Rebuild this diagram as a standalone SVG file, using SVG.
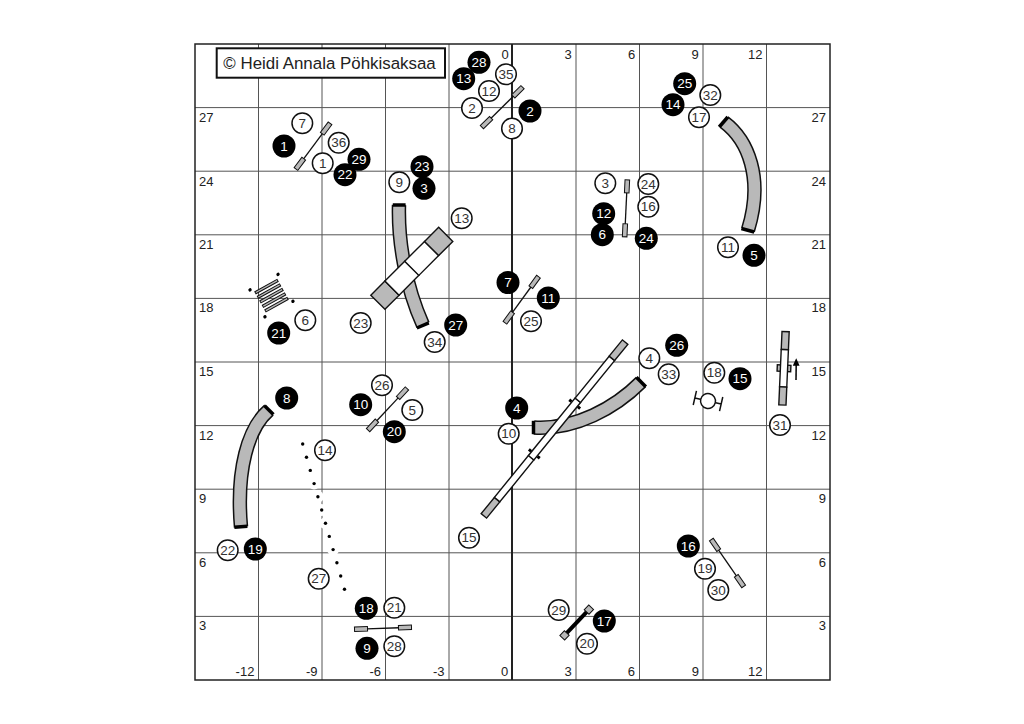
<svg xmlns="http://www.w3.org/2000/svg" width="1024" height="724" viewBox="0 0 1024 724">
<style>
text{font-family:"Liberation Sans",Arial,sans-serif;font-size:13px;fill:#222}
.g{stroke:#555;stroke-width:1;fill:none}
.e{text-anchor:end}.m{text-anchor:middle}
.w{fill:#fff;stroke:#111;stroke-width:1.5}
.b{fill:#000}
.n{text-anchor:middle;font-size:13.5px;fill:#333}
.t{text-anchor:middle;font-size:13.5px;fill:#fff}
.to{fill:none;stroke:#111;stroke-width:14.5}
.ti{fill:none;stroke:#b9b9b9;stroke-width:11.5}
.cap{stroke:#000;stroke-width:3.5;fill:none}
.gr{fill:#b9b9b9;stroke:#111;stroke-width:1.4}
.wh{fill:#fff;stroke:#111;stroke-width:1.4}
.ln{stroke:#111;stroke-width:1.3;fill:none}
.halo{fill:#fff}
.dot{fill:#000}
</style>
<defs>
<g id="jump"><line class="ln" x1="-16" y1="0" x2="16" y2="0"/><rect class="gr" x="-28.5" y="-2.3" width="13" height="4.6" style="stroke-width:1"/><rect class="gr" x="15.5" y="-2.3" width="13" height="4.6" style="stroke-width:1"/></g>
</defs>
<rect width="1024" height="724" fill="#fff"/>
<g id="grid">
<path class="g" d="M258.5 44V680M322 44V680M385.5 44V680M449 44V680M576 44V680M639.5 44V680M703 44V680M766.5 44V680M195 107.6H830M195 171.2H830M195 234.8H830M195 298.4H830M195 362H830M195 425.6H830M195 489.2H830M195 552.8H830M195 616.4H830"/>
<line x1="512" y1="44" x2="512" y2="680" stroke="#222" stroke-width="2"/>
<rect x="195" y="44" width="635" height="636" fill="none" stroke="#222" stroke-width="1.5"/>
</g>
<g id="axis-labels">
<text class="m" x="505" y="58.5">0</text><text class="m" x="568" y="58.5">3</text><text class="m" x="631.7" y="58.5">6</text><text class="m" x="695" y="58.5">9</text><text class="m" x="755.3" y="58.5">12</text>
<text class="m" x="245" y="676">-12</text><text class="m" x="311.7" y="676">-9</text><text class="m" x="375.3" y="676">-6</text><text class="m" x="438.7" y="676">-3</text><text class="m" x="504.7" y="676">0</text><text class="m" x="568" y="676">3</text><text class="m" x="631.3" y="676">6</text><text class="m" x="695.3" y="676">9</text><text class="m" x="755.3" y="676">12</text>
<text x="199" y="122">27</text><text x="199" y="186">24</text><text x="199" y="249">21</text><text x="199" y="312">18</text><text x="199" y="376">15</text><text x="199" y="440">12</text><text x="199" y="503">9</text><text x="199" y="567">6</text><text x="199" y="630">3</text>
<text class="e" x="826" y="122">27</text><text class="e" x="826" y="186">24</text><text class="e" x="826" y="249">21</text><text class="e" x="826" y="312">18</text><text class="e" x="826" y="376">15</text><text class="e" x="826" y="440">12</text><text class="e" x="826" y="503">9</text><text class="e" x="826" y="567">6</text><text class="e" x="826" y="630">3</text>
</g>
<g id="copyright"><rect x="216.7" y="48.3" width="228.3" height="29.4" fill="#fff" stroke="#111" stroke-width="2"/><text x="223.3" y="68.8" style="font-size:16.9px">© Heidi Annala Pöhkisaksaa</text></g>

<g id="tunnel-right"><path class="to" d="M724 122C748 140 764 178 748 230"/><path class="ti" d="M724 122C748 140 764 178 748 230"/><line class="cap" x1="719.2" y1="127" x2="727.8" y2="117"/><line class="cap" x1="741.4" y1="228.5" x2="754.2" y2="232"/></g>
<g id="tunnel-left"><path class="to" d="M269 410C248 428 236 470 241 527"/><path class="ti" d="M269 410C248 428 236 470 241 527"/><line class="cap" x1="264.6" y1="405.8" x2="273.4" y2="414.4"/><line class="cap" x1="234.4" y1="527.2" x2="247.4" y2="526.2"/></g>
<g id="tunnel-centre"><path class="to" d="M399 205C398 240 405 285 423 325"/><path class="ti" d="M399 205C398 240 405 285 423 325"/><line class="cap" x1="392.8" y1="205" x2="405.6" y2="205"/><line class="cap" x1="416.8" y1="328" x2="428.8" y2="322.8"/></g>
<g id="tunnel-lower"><path class="to" d="M534 427.5C575 430 615 408 641 382"/><path class="ti" d="M534 427.5C575 430 615 408 641 382"/><line class="cap" x1="533.5" y1="420.8" x2="533.5" y2="434.2"/><line class="cap" x1="636.4" y1="377.2" x2="645.8" y2="386.8"/></g>

<g id="aframe" transform="translate(411.8 268.3) rotate(-45)"><rect class="gr" x="-48" y="-10" width="20" height="20"/><rect class="wh" x="-28" y="-10" width="28" height="20"/><rect class="wh" x="0" y="-10" width="28" height="20"/><rect class="gr" x="28" y="-10" width="20" height="20"/></g>

<g id="dogwalk" transform="translate(554.5 429) rotate(-50.9)">
<rect class="b" x="-33.5" y="-7" width="3" height="3"/><rect class="b" x="-33.5" y="4" width="3" height="3"/><rect class="b" x="30.5" y="-7" width="3" height="3"/><rect class="b" x="30.5" y="4" width="3" height="3"/>
<rect class="gr" x="-112" y="-3.5" width="21" height="7"/><rect class="wh" x="-91" y="-3.5" width="54" height="7"/><rect class="wh" x="-37" y="-3.5" width="74" height="7"/><rect class="wh" x="37" y="-3.5" width="54" height="7"/><rect class="gr" x="91" y="-3.5" width="21" height="7"/>
</g>

<g id="jump-1"><use href="#jump" transform="translate(313 146.2) rotate(-53.3)"/></g>
<g id="jump-2"><use href="#jump" transform="translate(502.2 107.2) rotate(-44.5)"/></g>
<g id="jump-3"><use href="#jump" transform="translate(626 208.3) rotate(92.7)"/></g>
<g id="jump-7"><use href="#jump" transform="translate(521.7 299.7) rotate(-54)"/></g>
<g id="jump-10"><use href="#jump" transform="translate(387.5 409.3) rotate(-47)"/></g>
<g id="jump-9"><use href="#jump" transform="translate(383 628.3) rotate(-2)"/></g>
<g id="jump-16"><use href="#jump" transform="translate(727.5 563) rotate(55.5)"/></g>
<g id="wall-17" transform="translate(576.7 622.5) rotate(-46.5)"><line x1="-17" y1="0" x2="17" y2="0" stroke="#000" stroke-width="4"/><rect class="gr" x="-21" y="-3.3" width="6.6" height="6.6" style="stroke-width:1"/><rect class="gr" x="14.4" y="-3.3" width="6.6" height="6.6" style="stroke-width:1"/></g>

<g id="broad-jump" transform="translate(271.5 295.6) rotate(-29)">
<rect class="gr" x="-12.7" y="-11.5" width="25.4" height="2.4" style="stroke-width:1"/><rect class="gr" x="-12.7" y="-6.35" width="25.4" height="2.4" style="stroke-width:1"/><rect class="gr" x="-12.7" y="-1.2" width="25.4" height="2.4" style="stroke-width:1"/><rect class="gr" x="-12.7" y="3.95" width="25.4" height="2.4" style="stroke-width:1"/><rect class="gr" x="-12.7" y="9.1" width="25.4" height="2.4" style="stroke-width:1"/>
<circle class="dot" cx="-16" cy="-15.4" r="1.7"/><circle class="dot" cx="16" cy="-15.4" r="1.7"/><circle class="dot" cx="-16" cy="15.4" r="1.7"/><circle class="dot" cx="16" cy="15.4" r="1.7"/>
</g>

<g id="tire" transform="translate(708 401) rotate(13)"><path class="ln" d="M-13.5 0H13.5M-13.5 -7.2V7.2M13.5 -7.2V7.2" style="stroke-width:1.5"/><circle class="w" cx="0" cy="0" r="7.5"/></g>

<g id="seesaw" transform="translate(784 368.3) rotate(2.5)"><rect class="gr" x="-6.8" y="-3.2" width="13.6" height="6.4"/><rect class="gr" x="-3.6" y="-36.7" width="7.2" height="18"/><rect class="wh" x="-3.6" y="-18.7" width="7.2" height="37.4"/><rect class="gr" x="-3.6" y="18.7" width="7.2" height="18"/></g>
<g id="seesaw-arrow"><line class="ln" x1="796" y1="380" x2="796.2" y2="365" style="stroke-width:1.6"/><polygon class="b" points="796.2,358.3 799.6,365.8 792.8,365.8"/></g>

<g id="weave">
<g class="halo"><circle cx="302.7" cy="444" r="6"/><circle cx="306.5" cy="457.2" r="6"/><circle cx="310.3" cy="470.4" r="6"/><circle cx="314.1" cy="483.6" r="6"/><circle cx="317.9" cy="496.8" r="6"/><circle cx="321.7" cy="510" r="6"/><circle cx="325.5" cy="523.2" r="6"/><circle cx="329.3" cy="536.4" r="6"/><circle cx="333.1" cy="549.6" r="6"/><circle cx="336.9" cy="562.8" r="6"/><circle cx="340.7" cy="576" r="6"/><circle cx="344.5" cy="589.2" r="6"/></g>
<g class="dot"><circle cx="302.7" cy="444" r="1.7"/><circle cx="306.5" cy="457.2" r="1.7"/><circle cx="310.3" cy="470.4" r="1.7"/><circle cx="314.1" cy="483.6" r="1.7"/><circle cx="317.9" cy="496.8" r="1.7"/><circle cx="321.7" cy="510" r="1.7"/><circle cx="325.5" cy="523.2" r="1.7"/><circle cx="329.3" cy="536.4" r="1.7"/><circle cx="333.1" cy="549.6" r="1.7"/><circle cx="336.9" cy="562.8" r="1.7"/><circle cx="340.7" cy="576" r="1.7"/><circle cx="344.5" cy="589.2" r="1.7"/></g>
</g>

<g id="handler-numbers">
<g id="w7"><circle class="w" cx="302.3" cy="123.3" r="10.3"/><text class="n" x="302.3" y="128">7</text></g>
<g id="w36"><circle class="w" cx="338.7" cy="142.7" r="10.3"/><text class="n" x="338.7" y="147.4">36</text></g>
<g id="b29"><circle class="b" cx="359" cy="159.3" r="11.5"/><text class="t" x="359" y="164">29</text></g>
<g id="b22"><circle class="b" cx="345" cy="174.7" r="11.5"/><text class="t" x="345" y="179.4">22</text></g>
<g id="w1"><circle class="w" cx="322.7" cy="163.3" r="10.3"/><text class="n" x="322.7" y="168">1</text></g>
<g id="b1"><circle class="b" cx="284" cy="146" r="11.5"/><text class="t" x="284" y="150.7">1</text></g>
<g id="b23"><circle class="b" cx="422" cy="166.7" r="11.5"/><text class="t" x="422" y="171.4">23</text></g>
<g id="b3"><circle class="b" cx="424" cy="188.3" r="11.5"/><text class="t" x="424" y="193">3</text></g>
<g id="w9"><circle class="w" cx="399.3" cy="182.3" r="10.3"/><text class="n" x="399.3" y="187">9</text></g>
<g id="w13"><circle class="w" cx="461.7" cy="218.3" r="10.3"/><text class="n" x="461.7" y="223">13</text></g>
<g id="b28"><circle class="b" cx="479" cy="62.3" r="11.5"/><text class="t" x="479" y="67">28</text></g>
<g id="b13"><circle class="b" cx="463.7" cy="78.7" r="11.5"/><text class="t" x="463.7" y="83.4">13</text></g>
<g id="w35"><circle class="w" cx="506" cy="74.3" r="10.3"/><text class="n" x="506" y="79">35</text></g>
<g id="w12"><circle class="w" cx="489" cy="91" r="10.3"/><text class="n" x="489" y="95.7">12</text></g>
<g id="w2"><circle class="w" cx="472" cy="108" r="10.3"/><text class="n" x="472" y="112.7">2</text></g>
<g id="w8"><circle class="w" cx="512" cy="128.5" r="10.3"/><text class="n" x="512" y="133.2">8</text></g>
<g id="b2"><circle class="b" cx="530" cy="111" r="11.5"/><text class="t" x="530" y="115.7">2</text></g>
<g id="b7"><circle class="b" cx="508" cy="282.5" r="11.5"/><text class="t" x="508" y="287.2">7</text></g>
<g id="b21"><circle class="b" cx="278.7" cy="333" r="11.5"/><text class="t" x="278.7" y="337.7">21</text></g>
<g id="w6"><circle class="w" cx="305.3" cy="320.3" r="10.3"/><text class="n" x="305.3" y="325">6</text></g>
<g id="w23"><circle class="w" cx="360.7" cy="323" r="10.3"/><text class="n" x="360.7" y="327.7">23</text></g>
<g id="w34"><circle class="w" cx="434.7" cy="342" r="10.3"/><text class="n" x="434.7" y="346.7">34</text></g>
<g id="b27"><circle class="b" cx="455.7" cy="325" r="11.5"/><text class="t" x="455.7" y="329.7">27</text></g>
<g id="b25"><circle class="b" cx="684.7" cy="83.7" r="11.5"/><text class="t" x="684.7" y="88.4">25</text></g>
<g id="w32"><circle class="w" cx="710.3" cy="95" r="10.3"/><text class="n" x="710.3" y="99.7">32</text></g>
<g id="b14"><circle class="b" cx="673" cy="104.7" r="11.5"/><text class="t" x="673" y="109.4">14</text></g>
<g id="w17"><circle class="w" cx="699" cy="117.3" r="10.3"/><text class="n" x="699" y="122">17</text></g>
<g id="w3"><circle class="w" cx="605.3" cy="183.3" r="10.3"/><text class="n" x="605.3" y="188">3</text></g>
<g id="w24"><circle class="w" cx="648.3" cy="184" r="10.3"/><text class="n" x="648.3" y="188.7">24</text></g>
<g id="w16"><circle class="w" cx="648.3" cy="206.7" r="10.3"/><text class="n" x="648.3" y="211.4">16</text></g>
<g id="b12"><circle class="b" cx="603.7" cy="213.7" r="11.5"/><text class="t" x="603.7" y="218.4">12</text></g>
<g id="b6"><circle class="b" cx="602.3" cy="234.7" r="11.5"/><text class="t" x="602.3" y="239.4">6</text></g>
<g id="b24"><circle class="b" cx="646.3" cy="238.3" r="11.5"/><text class="t" x="646.3" y="243">24</text></g>
<g id="w11"><circle class="w" cx="728" cy="247.3" r="10.3"/><text class="n" x="728" y="252">11</text></g>
<g id="b5"><circle class="b" cx="754" cy="255.3" r="11.5"/><text class="t" x="754" y="260">5</text></g>
<g id="b11"><circle class="b" cx="548.3" cy="298" r="11.5"/><text class="t" x="548.3" y="302.7">11</text></g>
<g id="w25"><circle class="w" cx="531" cy="321.3" r="10.3"/><text class="n" x="531" y="326">25</text></g>
<g id="b26"><circle class="b" cx="676.7" cy="345.3" r="11.5"/><text class="t" x="676.7" y="350">26</text></g>
<g id="w33"><circle class="w" cx="668.7" cy="374.3" r="10.3"/><text class="n" x="668.7" y="379">33</text></g>
<g id="w4"><circle class="w" cx="649.3" cy="358.3" r="10.3"/><text class="n" x="649.3" y="363">4</text></g>
<g id="w18"><circle class="w" cx="714.3" cy="372.7" r="10.3"/><text class="n" x="714.3" y="377.4">18</text></g>
<g id="b15"><circle class="b" cx="740" cy="378.7" r="11.5"/><text class="t" x="740" y="383.4">15</text></g>
<g id="b4"><circle class="b" cx="516.7" cy="408" r="11.5"/><text class="t" x="516.7" y="412.7">4</text></g>
<g id="w10"><circle class="w" cx="508.7" cy="433.7" r="10.3"/><text class="n" x="508.7" y="438.4">10</text></g>
<g id="w31"><circle class="w" cx="780" cy="425" r="10.3"/><text class="n" x="780" y="429.7">31</text></g>
<g id="w15"><circle class="w" cx="469" cy="537.7" r="10.3"/><text class="n" x="469" y="542.4">15</text></g>
<g id="b16"><circle class="b" cx="688.3" cy="546" r="11.5"/><text class="t" x="688.3" y="550.7">16</text></g>
<g id="w19"><circle class="w" cx="705" cy="568.7" r="10.3"/><text class="n" x="705" y="573.4">19</text></g>
<g id="w30"><circle class="w" cx="718.3" cy="590" r="10.3"/><text class="n" x="718.3" y="594.7">30</text></g>
<g id="w29"><circle class="w" cx="558.7" cy="610" r="10.3"/><text class="n" x="558.7" y="614.7">29</text></g>
<g id="b17"><circle class="b" cx="604.3" cy="621" r="11.5"/><text class="t" x="604.3" y="625.7">17</text></g>
<g id="w20"><circle class="w" cx="587" cy="643.7" r="10.3"/><text class="n" x="587" y="648.4">20</text></g>
<g id="b8"><circle class="b" cx="286.7" cy="398" r="11.5"/><text class="t" x="286.7" y="402.7">8</text></g>
<g id="w26"><circle class="w" cx="382" cy="385.3" r="10.3"/><text class="n" x="382" y="390">26</text></g>
<g id="b10"><circle class="b" cx="360.7" cy="404.7" r="11.5"/><text class="t" x="360.7" y="409.4">10</text></g>
<g id="w5"><circle class="w" cx="412.3" cy="410" r="10.3"/><text class="n" x="412.3" y="414.7">5</text></g>
<g id="b20"><circle class="b" cx="394.3" cy="431.7" r="11.5"/><text class="t" x="394.3" y="436.4">20</text></g>
<g id="w14"><circle class="w" cx="325" cy="450.3" r="10.3"/><text class="n" x="325" y="455">14</text></g>
<g id="w22"><circle class="w" cx="227.7" cy="550.3" r="10.3"/><text class="n" x="227.7" y="555">22</text></g>
<g id="b19"><circle class="b" cx="255.3" cy="549" r="11.5"/><text class="t" x="255.3" y="553.7">19</text></g>
<g id="w27"><circle class="w" cx="318.7" cy="578.7" r="10.3"/><text class="n" x="318.7" y="583.4">27</text></g>
<g id="b18"><circle class="b" cx="366.3" cy="608.3" r="11.5"/><text class="t" x="366.3" y="613">18</text></g>
<g id="w21"><circle class="w" cx="394.3" cy="607.7" r="10.3"/><text class="n" x="394.3" y="612.4">21</text></g>
<g id="b9"><circle class="b" cx="367" cy="648.3" r="11.5"/><text class="t" x="367" y="653">9</text></g>
<g id="w28"><circle class="w" cx="394.3" cy="646.3" r="10.3"/><text class="n" x="394.3" y="651">28</text></g>
</g>
</svg>
